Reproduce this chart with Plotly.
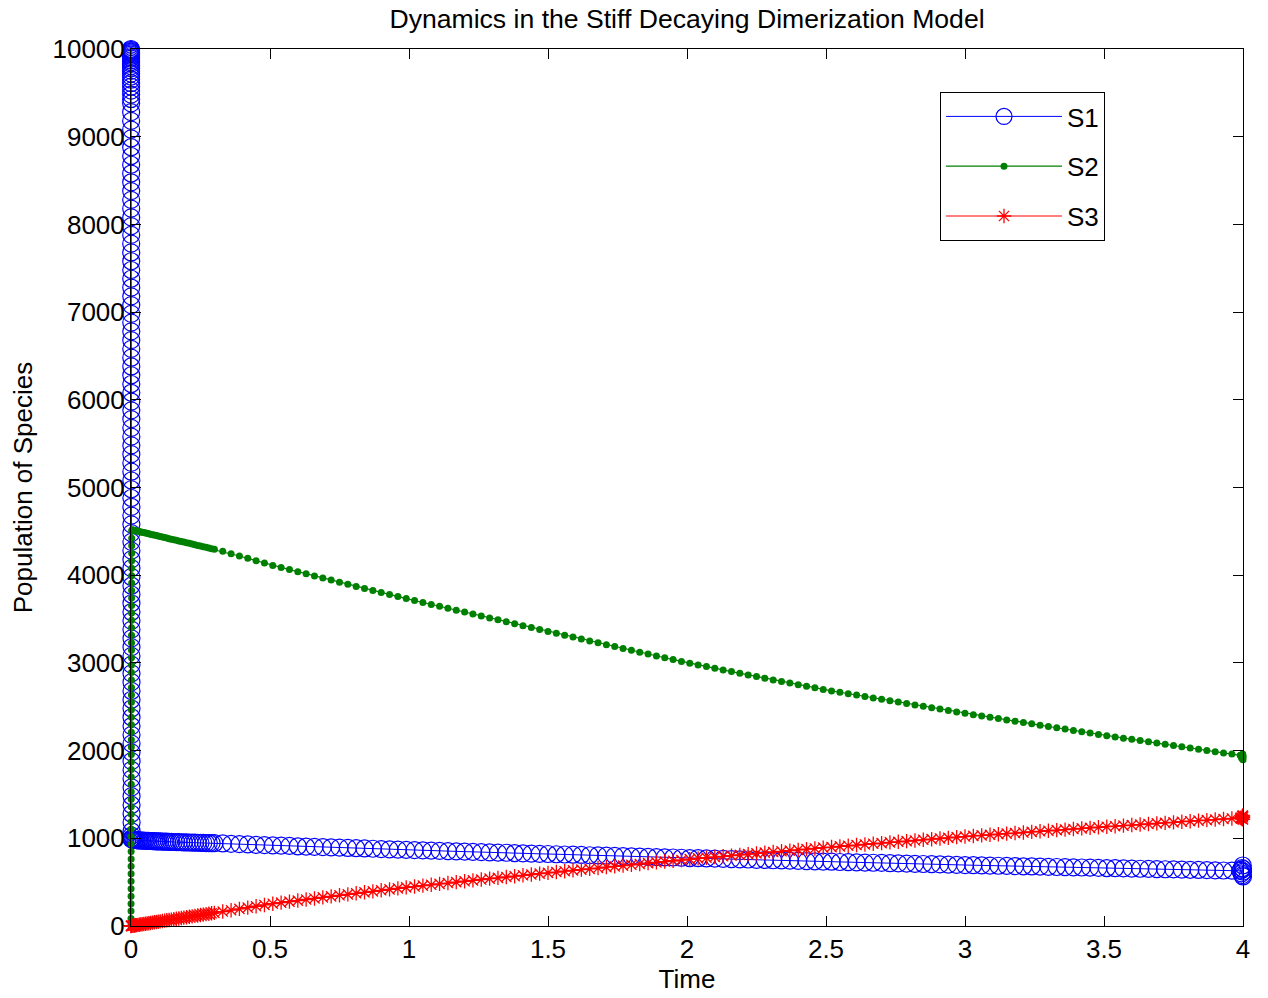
import plotly.graph_objects as go

# ---- time points ----
# fast initial transient (S1 collapse), in time units
t1_fast = [0.00000, 0.00002, 0.00004, 0.00006, 0.00008, 0.00010, 0.00012, 0.00014, 0.00016, 0.00018,
           0.00020, 0.00022, 0.00024, 0.00026, 0.00028, 0.00030, 0.00032, 0.00034, 0.00036, 0.00038,
           0.00040, 0.00042, 0.00044, 0.00046, 0.00048, 0.00050, 0.00052, 0.00054, 0.00056, 0.00058,
           0.00060, 0.00062, 0.00064, 0.00066, 0.00068, 0.00070, 0.00072, 0.00074, 0.00076, 0.00078,
           0.00080, 0.00082, 0.00084, 0.00086, 0.00088, 0.00090, 0.00092, 0.00094, 0.00096, 0.00098,
           0.00100, 0.00102, 0.00104, 0.00106, 0.00108, 0.00110, 0.00112, 0.00114, 0.00116, 0.00118,
           0.00120, 0.00122, 0.00124, 0.00126, 0.00128, 0.00130, 0.00132, 0.00134, 0.00136, 0.00138,
           0.00140, 0.00142, 0.00144, 0.00146, 0.00148, 0.00150, 0.00152, 0.00154, 0.00156, 0.00158,
           0.00160, 0.00162, 0.00164, 0.00166, 0.00168, 0.00170, 0.00172, 0.00174, 0.00176, 0.00178,
           0.00180, 0.00182, 0.00184, 0.00186, 0.00188, 0.00190, 0.00192, 0.00194, 0.00196, 0.00198,
           0.00200, 0.00202, 0.00204, 0.00206, 0.00208, 0.00210, 0.00212, 0.00214, 0.00216, 0.00218,
           0.00220]
s1_fast = [10000, 9990, 9980, 9970, 9960, 9950, 9935, 9920, 9905, 9890,
           9870, 9850, 9830, 9805, 9780, 9750, 9720, 9685, 9650, 9610,
           9570, 9525, 9480, 9430, 9380, 9280, 9180, 9080, 8980, 8880,
           8780, 8680, 8580, 8480, 8380, 8280, 8180, 8080, 7980, 7880,
           7780, 7680, 7580, 7480, 7380, 7280, 7180, 7080, 6980, 6880,
           6780, 6680, 6580, 6480, 6380, 6280, 6180, 6080, 5980, 5880,
           5780, 5680, 5580, 5480, 5380, 5280, 5180, 5080, 4980, 4880,
           4780, 4680, 4580, 4480, 4380, 4280, 4180, 4080, 3980, 3880,
           3780, 3680, 3580, 3480, 3380, 3280, 3180, 3080, 2980, 2880,
           2780, 2680, 2580, 2480, 2380, 2280, 2180, 2080, 1980, 1880,
           1780, 1680, 1580, 1480, 1380, 1280, 1180, 1080, 1030, 1000,
           988]

t2_fast = [0.00000, 0.00005, 0.00010, 0.00015, 0.00020, 0.00025, 0.00030, 0.00035, 0.00040, 0.00045,
           0.00050, 0.00055, 0.00060, 0.00065, 0.00070, 0.00075, 0.00080, 0.00085, 0.00090, 0.00095,
           0.00100, 0.00105, 0.00110, 0.00115, 0.00120, 0.00125, 0.00130, 0.00135, 0.00140, 0.00145,
           0.00150, 0.00155, 0.00160, 0.00165, 0.00170, 0.00175, 0.00180, 0.00185, 0.00190, 0.00195,
           0.00200, 0.00205, 0.00210, 0.00215, 0.00220, 0.00225, 0.00230, 0.00235, 0.00240, 0.00245,
           0.00250, 0.00255, 0.00260, 0.00265]
s2_fast = [0, 85, 170, 255, 340, 425, 510, 595, 680, 765,
           850, 935, 1020, 1105, 1190, 1275, 1360, 1445, 1530, 1615,
           1700, 1785, 1870, 1955, 2040, 2125, 2210, 2295, 2380, 2465,
           2550, 2635, 2720, 2805, 2890, 2975, 3060, 3145, 3230, 3315,
           3400, 3485, 3570, 3655, 3740, 3825, 3910, 3995, 4080, 4165,
           4250, 4335, 4420, 4505]

# early (adaptive, dense) stretch
t_early = [0.004, 0.008, 0.012, 0.016, 0.02, 0.025, 0.03, 0.035, 0.04, 0.046,
           0.052, 0.058, 0.064, 0.07, 0.077, 0.084, 0.091, 0.098, 0.105, 0.113,
           0.121, 0.129, 0.137, 0.145, 0.154, 0.163, 0.172, 0.181, 0.19, 0.2,
           0.21, 0.22, 0.23, 0.24, 0.25, 0.26, 0.27, 0.28, 0.29, 0.30]
s1_early = [990, 986, 983, 981, 979, 977, 976, 975, 974, 973,
            972, 971, 970, 969, 968, 967, 966, 965, 964, 963,
            962, 961, 960, 959, 958, 957, 956, 955, 954, 953,
            952, 951, 950, 949, 948, 947, 946, 946, 945, 944]
s2_early = [4517, 4514, 4511, 4508, 4505, 4501, 4498, 4494, 4490, 4486,
            4481, 4477, 4472, 4468, 4462, 4457, 4452, 4447, 4441, 4435,
            4429, 4423, 4417, 4411, 4405, 4398, 4391, 4384, 4378, 4370,
            4363, 4355, 4348, 4340, 4333, 4325, 4318, 4310, 4303, 4295]
t3_start = [0.0, 0.0005, 0.001, 0.002]
s3_start = [0, 1, 1, 1]
s3_early = [2, 4, 6, 8, 10, 13, 15, 18, 20, 23,
            26, 29, 32, 35, 39, 42, 46, 49, 53, 57,
            61, 65, 69, 73, 77, 82, 86, 91, 95, 100,
            105, 110, 115, 120, 125, 130, 135, 140, 145, 150]

# regular stretch
t_main = [0.33, 0.36, 0.39, 0.42, 0.45, 0.48, 0.51, 0.54, 0.57, 0.60,
          0.63, 0.66, 0.69, 0.72, 0.75, 0.78, 0.81, 0.84, 0.87, 0.90,
          0.93, 0.96, 0.99, 1.02, 1.05, 1.08, 1.11, 1.14, 1.17, 1.20,
          1.23, 1.26, 1.29, 1.32, 1.35, 1.38, 1.41, 1.44, 1.47, 1.50,
          1.53, 1.56, 1.59, 1.62, 1.65, 1.68, 1.71, 1.74, 1.77, 1.80,
          1.83, 1.86, 1.89, 1.92, 1.95, 1.98, 2.01, 2.04, 2.07, 2.10,
          2.13, 2.16, 2.19, 2.22, 2.25, 2.28, 2.31, 2.34, 2.37, 2.40,
          2.43, 2.46, 2.49, 2.52, 2.55, 2.58, 2.61, 2.64, 2.67, 2.70,
          2.73, 2.76, 2.79, 2.82, 2.85, 2.88, 2.91, 2.94, 2.97, 3.00,
          3.03, 3.06, 3.09, 3.12, 3.15, 3.18, 3.21, 3.24, 3.27, 3.30,
          3.33, 3.36, 3.39, 3.42, 3.45, 3.48, 3.51, 3.54, 3.57, 3.60,
          3.63, 3.66, 3.69, 3.72, 3.75, 3.78, 3.81, 3.84, 3.87, 3.90,
          3.93, 3.96, 3.99]
s1_main = [941, 937, 934, 930, 926, 922, 919, 916, 913, 909,
           906, 903, 900, 897, 893, 890, 887, 884, 881, 877,
           874, 871, 868, 865, 863, 860, 857, 854, 851, 849,
           846, 843, 840, 837, 835, 832, 829, 826, 823, 821,
           818, 815, 813, 810, 807, 805, 802, 799, 797, 794,
           791, 789, 786, 783, 781, 778, 775, 773, 770, 768,
           765, 763, 760, 758, 755, 753, 750, 748, 745, 743,
           740, 738, 735, 733, 730, 728, 726, 723, 721, 719,
           716, 714, 712, 709, 707, 705, 702, 700, 698, 695,
           693, 691, 689, 687, 685, 683, 681, 679, 677, 675,
           673, 671, 669, 667, 665, 663, 661, 659, 657, 655,
           653, 651, 649, 647, 645, 643, 641, 639, 637, 635,
           633, 631, 629]
s2_main = [4273, 4246, 4219, 4192, 4165, 4138, 4112, 4088, 4064, 4040,
           4016, 3992, 3968, 3944, 3920, 3896, 3872, 3849, 3826, 3803,
           3780, 3757, 3734, 3711, 3689, 3667, 3645, 3623, 3601, 3579,
           3557, 3535, 3513, 3491, 3469, 3447, 3425, 3403, 3381, 3359,
           3337, 3316, 3294, 3273, 3251, 3230, 3208, 3187, 3165, 3144,
           3122, 3101, 3080, 3059, 3038, 3017, 2996, 2977, 2958, 2939,
           2920, 2901, 2882, 2863, 2844, 2825, 2806, 2788, 2770, 2752,
           2734, 2716, 2698, 2681, 2665, 2649, 2633, 2617, 2601, 2585,
           2569, 2553, 2537, 2521, 2505, 2489, 2473, 2457, 2441, 2425,
           2410, 2395, 2380, 2365, 2350, 2335, 2320, 2305, 2290, 2275,
           2260, 2245, 2230, 2215, 2200, 2185, 2170, 2156, 2142, 2128,
           2114, 2100, 2086, 2072, 2058, 2044, 2030, 2016, 2002, 1988,
           1974, 1960, 1946]
s3_main = [165, 180, 195, 210, 225, 240, 254, 266, 278, 290,
           302, 314, 326, 338, 350, 361, 373, 384, 395, 407,
           418, 429, 440, 450, 460, 470, 480, 490, 500, 510,
           520, 530, 540, 549, 559, 568, 578, 587, 597, 606,
           615, 625, 634, 643, 652, 661, 671, 680, 689, 698,
           707, 717, 726, 735, 744, 753, 762, 771, 779, 787,
           795, 803, 811, 819, 828, 836, 844, 852, 860, 868,
           876, 884, 893, 900, 908, 915, 923, 930, 938, 945,
           953, 960, 968, 975, 983, 990, 998, 1005, 1013, 1020,
           1027, 1033, 1040, 1047, 1053, 1060, 1066, 1073, 1080, 1086,
           1093, 1099, 1106, 1113, 1119, 1126, 1132, 1138, 1145, 1151,
           1157, 1163, 1170, 1176, 1182, 1189, 1195, 1201, 1207, 1214,
           1220, 1226, 1232]

# final cluster at t = 4
t_end = [3.993, 3.995, 3.997, 3.998, 3.999, 4.0, 4.0, 4.0]
s1_end = [640, 600, 660, 580, 690, 620, 565, 650]
s2_end = [1935, 1915, 1950, 1905, 1960, 1925, 1895, 1940]
s3_end = [1235, 1225, 1250, 1220, 1260, 1240, 1215, 1255]

x_ticks = [0, 0.5, 1, 1.5, 2, 2.5, 3, 3.5, 4]
y_ticks = [0, 1000, 2000, 3000, 4000, 5000, 6000, 7000, 8000, 9000, 10000]

FONT = "Liberation Sans, Arial, Helvetica, sans-serif"
FS = 26

t_s1 = t1_fast + t_early + t_main + t_end
v_s1 = s1_fast + s1_early + s1_main + s1_end
t_s2 = t2_fast + t_early + t_main + t_end
v_s2 = s2_fast + s2_early + s2_main + s2_end
t_s3 = t3_start + t_early + t_main + t_end
v_s3 = s3_start + s3_early + s3_main + s3_end

fig = go.Figure()
fig.add_trace(go.Scatter(
    x=t_s1, y=v_s1, name="S1", mode="lines+markers", legendgroup="a", cliponaxis=False,
    line=dict(color="#0000FF", width=1),
    marker=dict(symbol="circle-open", size=17, color="#0000FF", line=dict(width=1.2, color="#0000FF")),
))
fig.add_trace(go.Scatter(
    x=t_s2, y=v_s2, name="S2", mode="lines+markers", legendgroup="b", cliponaxis=False,
    line=dict(color="#008000", width=1.2),
    marker=dict(symbol="circle", size=7, color="#008000"),
))
fig.add_trace(go.Scatter(
    x=t_s3, y=v_s3, name="S3", mode="lines+markers", legendgroup="c", cliponaxis=False,
    line=dict(color="#FF0000", width=1),
    marker=dict(symbol="asterisk-open", size=12, color="#FF0000", line=dict(width=1.3, color="#FF0000")),
))

axis_common = dict(
    showline=True, linecolor="black", linewidth=1, mirror="ticks",
    ticks="inside", ticklen=10, tickwidth=1, tickcolor="black",
    showgrid=False, zeroline=False,
    tickfont=dict(family=FONT, size=FS, color="black"),
    automargin=False,
)

fig.update_xaxes(
    range=[0, 4], tickvals=x_ticks, ticktext=[f"{v:g}" for v in x_ticks],
    title=dict(text="Time", font=dict(family=FONT, size=FS, color="black"), standoff=6),
    **axis_common,
)
fig.update_yaxes(
    range=[0, 10000], tickvals=y_ticks, ticktext=[str(v) for v in y_ticks],
    title=dict(text="Population of Species", font=dict(family=FONT, size=FS, color="black"), standoff=12),
    **axis_common,
)

fig.update_layout(
    width=1268, height=998,
    margin=dict(l=131, r=25, t=49, b=72, pad=0),
    paper_bgcolor="white", plot_bgcolor="white",
    title=dict(text="Dynamics in the Stiff Decaying Dimerization Model",
               font=dict(family=FONT, size=26.6, color="black"),
               x=0.5, xref="paper", xanchor="center",
               y=1 - 19 / 998, yref="container", yanchor="middle"),
    legend=dict(
        x=(940 - 131) / 1112, y=(926 - 92) / 877, xanchor="left", yanchor="top",
        bgcolor="white", bordercolor="black", borderwidth=1,
        font=dict(family=FONT, size=FS, color="black"),
        traceorder="grouped", tracegroupgap=13, itemwidth=116,
    ),
    showlegend=True,
)

fig.write_html("out.html")
